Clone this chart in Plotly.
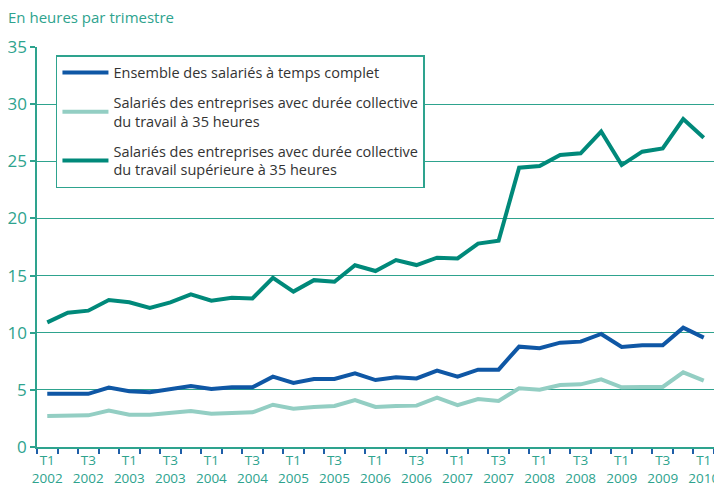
import plotly.graph_objects as go

quarters = []
for yr in range(2002, 2011):
    for q in ["T1", "T2", "T3", "T4"]:
        quarters.append(f"{q} {yr}")
quarters = quarters[:33]

ensemble = [4.65, 4.67, 4.65, 5.2, 4.87, 4.8, 5.07, 5.34, 5.07, 5.22, 5.22, 6.15, 5.6, 5.95, 5.95, 6.45,
            5.86, 6.1, 6.0, 6.68, 6.15, 6.77, 6.77, 8.78, 8.65, 9.13, 9.22, 9.89, 8.75, 8.9, 8.9, 10.44, 9.57]
trente_cinq = [2.71, 2.72, 2.77, 3.2, 2.83, 2.83, 3.03, 3.15, 2.92, 3.0, 3.03, 3.7, 3.35, 3.5, 3.59, 4.11,
               3.5, 3.59, 3.62, 4.32, 3.67, 4.2, 4.03, 5.13, 5.02, 5.42, 5.48, 5.92, 5.22, 5.25, 5.25, 6.53, 5.8]
superieure = [10.9, 11.75, 11.93, 12.86, 12.66, 12.16, 12.66, 13.36, 12.8, 13.06, 13.0, 14.8, 13.6, 14.6, 14.46, 15.9,
              15.4, 16.36, 15.92, 16.56, 16.5, 17.8, 18.05, 24.44, 24.58, 25.55, 25.7, 27.6, 24.67, 25.84, 26.13, 28.7, 27.06]

names = [
    "Ensemble des salariés à temps complet",
    "Salariés des entreprises avec durée collective<br>du travail à 35 heures",
    "Salariés des entreprises avec durée collective<br>du travail supérieure à 35 heures",
]
colors = ["#0F57A5", "#93CEC3", "#00897A"]
series = [ensemble, trente_cinq, superieure]

tick_idx = list(range(0, 33, 2))
tick_text = [quarters[i].replace(" ", "<br>") for i in tick_idx]

teal = "#2EA38E"
fig = go.Figure()
xs = list(range(len(quarters)))
for k, (name, col, vals) in enumerate(zip(names, colors, series)):
    fig.add_trace(go.Scatter(x=xs, y=vals, mode="lines", name=name, legendgroup=f"g{k}",
                             line=dict(color=col, width=4)))

# the page body adds an 8px offset; figure sized to fit the window
fig.update_layout(
    width=714, height=478,
    margin=dict(l=29, r=8, t=39, b=39, autoexpand=False),
    paper_bgcolor="white", plot_bgcolor="white",
    font=dict(family="Open Sans, Noto Sans, sans-serif", color="#333333"),
    showlegend=True,
    legend=dict(x=0.028, y=0.98, xanchor="left", yanchor="top",
                bgcolor="white", bordercolor=teal, borderwidth=1.5,
                itemwidth=46,
                font=dict(size=14.5, color="#333333"), tracegroupgap=8),
    title=dict(text="En heures par trimestre", xref="container", yref="container",
               x=0.0, y=1 - 10 / 478, xanchor="left", yanchor="middle",
               font=dict(size=15, color=teal)),
)
fig.update_xaxes(
    range=[-0.5, 32.5], tickmode="array", tickvals=tick_idx, ticktext=tick_text,
    ticks="", showgrid=False, zeroline=False, automargin=False,
    showline=True, linecolor=teal, linewidth=1.5,
    tickfont=dict(size=13.5, color=teal),
    minor=dict(tickmode="linear", tick0=-0.5, dtick=1, ticks="outside", ticklen=5,
               tickcolor="#1F5FA8", tickwidth=1.5, showgrid=False),
)
fig.update_yaxes(
    range=[0, 35], tickvals=[0, 5, 10, 15, 20, 25, 30, 35], automargin=False,
    ticks="outside", ticklen=5, tickcolor=teal, tickwidth=1.5,
    showgrid=True, gridcolor=teal, gridwidth=1.2, zeroline=False,
    showline=True, linecolor=teal, linewidth=1.5, mirror=True,
    tickfont=dict(size=17, color=teal),
)
fig.write_html("out.html")
